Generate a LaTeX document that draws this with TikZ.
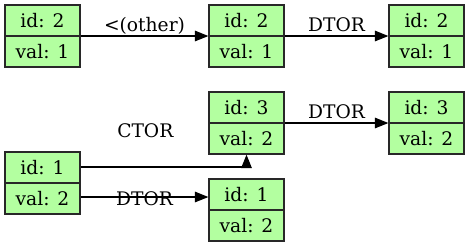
\documentclass[tikz,border=0pt]{standalone}
\usepackage{fontspec}
\setmainfont{DejaVu Serif}
\usetikzlibrary{arrows.meta}
\definecolor{recfill}{RGB}{179,255,160}
\definecolor{recline}{RGB}{40,40,40}
\newcommand{\recfont}{\fontsize{18.67}{31.6}\selectfont}
\newcommand{\lblfont}{\fontsize{18.67}{22}\selectfont}
\tikzset{
  rec/.style={draw=recline, fill=recfill, line width=1.2pt,
    minimum width=75pt, minimum height=62pt, inner sep=0pt,
    align=center, font=\recfont,
    path picture={\draw[recline, line width=1.2pt]
      (path picture bounding box.west) -- (path picture bounding box.east);}},
  edge/.style={draw=black, line width=1.1pt,
    -{Triangle[length=13.5pt, width=10.5pt]}},
  lbl/.style={font=\lblfont, inner sep=0pt, anchor=base}
}
\begin{document}
\begin{tikzpicture}[x=1pt, y=-1pt]
  \useasboundingbox (0,0) rectangle (469,247);

  % records
  \node[rec] (A) at (42.5,36) {id: 2\\val: 1};
  \node[rec] (B) at (246.5,36) {id: 2\\val: 1};
  \node[rec] (C) at (426.5,36) {id: 2\\val: 1};
  \node[rec] (D) at (246.5,123) {id: 3\\val: 2};
  \node[rec] (E) at (426.5,123) {id: 3\\val: 2};
  \node[rec] (F) at (42.5,183) {id: 1\\val: 2};
  \node[rec] (G) at (246.5,210) {id: 1\\val: 2};

  % ports on the right side of the lower-left record
  \coordinate (fup) at ([yshift=16pt]F.east);
  \coordinate (fdn) at ([yshift=-14pt]F.east);

  % transitions
  \draw[edge] (A.east) -- (B.west)
    node[lbl, midway, yshift=4.5pt] {<(other)};
  \draw[edge] (B.east) -- (C.west)
    node[lbl, midway, yshift=4.5pt] {DTOR};
  \draw[edge] (D.east) -- (E.west)
    node[lbl, midway, yshift=4.5pt] {DTOR};
  \draw[edge] (fup) -| (D.south)
    node[lbl, pos=0.195, yshift=30pt] {CTOR};
  \draw[edge] (fdn) -- (fdn -| G.west)
    node[lbl, midway, yshift=-8pt] {DTOR};
\end{tikzpicture}
\end{document}
